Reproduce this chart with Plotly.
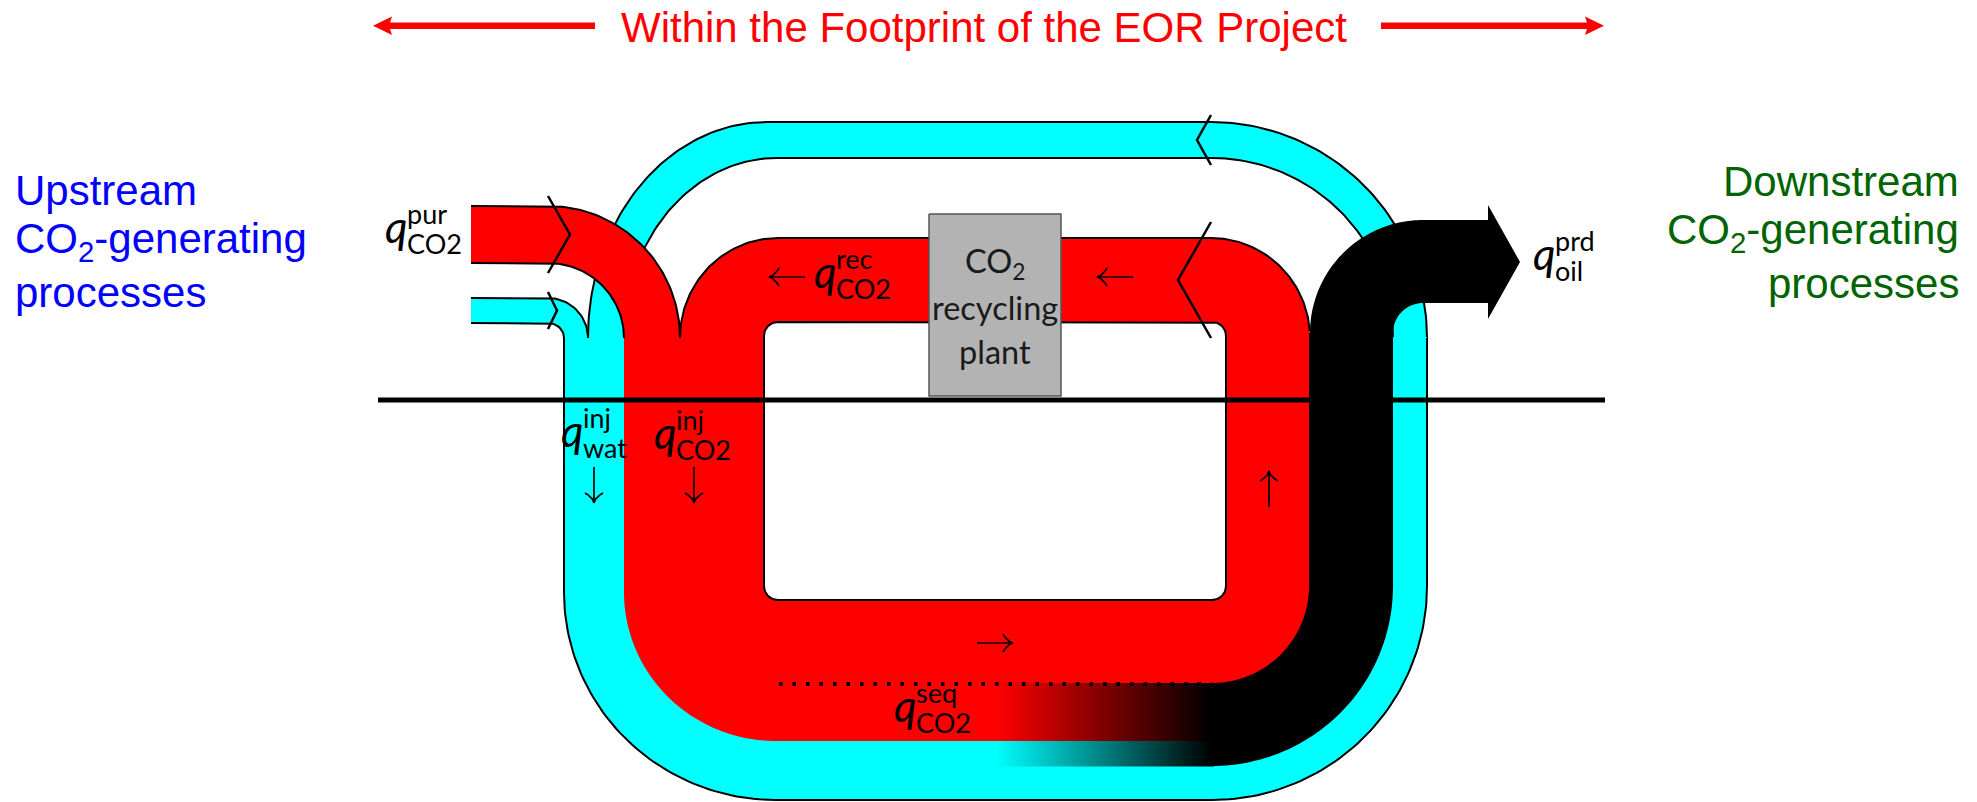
import numpy as np
import plotly.graph_objects as go

# ---------------- chart content (text) ----------------
title_text = "Within the Footprint of the EOR Project"
upstream_lines = ["Upstream", "CO<sub>2</sub>-generating", "processes"]
downstream_lines = ["Downstream", "CO<sub>2</sub>-generating", "processes"]
plant_lines = ["CO<sub>2</sub>", "recycling", "plant"]
flow_sup = ["pur", "rec", "inj", "inj", "seq", "prd"]
flow_sub = ["CO2", "CO2", "wat", "CO2", "CO2", "oil"]
arrow_dirs = ["left", "left", "down", "down", "up", "right"]

# ---------------- layout geometry (pixels, y downward) ----------------
W, H = 1977, 802
label_left = [388, 817, 564, 657, 897, 1536]
label_base = [243, 288, 447, 449, 722, 270]
arrow_pos = [(787, 277), (1115, 277), (594, 485), (694, 485), (1269, 489), (995, 643)]

CYAN, RED, BLACK = "#00ffff", "#ff0000", "#000000"
SANS = "Liberation Sans, Arial, sans-serif"
MATH = "Lato, Open Sans, sans-serif"

traces = []


def arc(cx, cy, rx, ry, a0, a1, n=60):
    t = np.radians(np.linspace(a0, a1, n))
    return list(zip(cx + rx * np.cos(t), cy + ry * np.sin(t)))


def xy(pts):
    return [p[0] for p in pts], [p[1] for p in pts]


def fill_poly(pts, color, gradient=None):
    x, y = xy(pts)
    kw = dict(x=x, y=y, mode="none", fill="toself", hoverinfo="skip")
    if gradient is None:
        kw["fillcolor"] = color
    else:
        kw["fillgradient"] = gradient
    traces.append(go.Scatter(**kw))


def line(pts, color=BLACK, width=2.0, dash=None):
    x, y = xy(pts)
    ln = dict(color=color, width=width)
    if dash:
        ln["dash"] = dash
    traces.append(go.Scatter(x=x, y=y, mode="lines", line=ln, hoverinfo="skip"))


def rrect(x0, y0, x1, y1, r):
    return ([(x0 + r, y0), (x1 - r, y0)] + arc(x1 - r, y0 + r, r, r, 270, 360, 16)
            + [(x1, y1 - r)] + arc(x1 - r, y1 - r, r, r, 0, 90, 16)
            + [(x0 + r, y1)] + arc(x0 + r, y1 - r, r, r, 90, 180, 16)
            + [(x0, y0 + r)] + arc(x0 + r, y0 + r, r, r, 180, 270, 16))


# ---- 1. recycled water arc (cyan, top) ----
cy_outer = arc(767, 338, 179, 216, 180, 270) + [(1211, 122)] + arc(1211, 338, 216, 216, 270, 360)
cy_inner = arc(1211, 338, 182, 180, 360, 270) + [(777, 158)] + arc(777, 338, 153, 180, 270, 180)
fill_poly(cy_outer + cy_inner, CYAN)
line(cy_outer)
line(cy_inner)

# ---- 2. cyan U (water into reservoir) ----
cu_pts = [(564, 337), (564, 592)] + arc(776, 592, 212, 208, 180, 90) + arc(1212, 586, 215, 214, 90, 0) + [(1427, 337)]
fill_poly(cu_pts, CYAN)
cu_line = [(471, 323), (548, 323)] + arc(548, 338, 16, 15, 270, 360, 16) + [(564, 592)] \
    + arc(776, 592, 212, 208, 180, 90) + arc(1212, 586, 215, 214, 90, 0) + [(1427, 338)]
# cyan inlet
ci_top = [(471, 298), (548, 298)] + arc(548, 338, 40, 40, 270, 360, 30)
fill_poly(ci_top + [(588, 341), (564, 341)] + arc(548, 338, 16, 15, 360, 270, 16) + [(471, 323)], CYAN)
line(ci_top)
line(cu_line)
line([(548, 292), (557, 310.5), (548, 329)], width=2.5)

# ---- 3. purchased CO2 inlet (red) ----
ri_outer = [(471, 206), (548, 206)] + arc(548, 338, 132, 132, 270, 360)
ri_inner = [(471, 263), (548, 263)] + arc(548, 338, 76, 75, 270, 360)
fill_poly(ri_outer + [(680, 346), (624, 346)] + ri_inner[::-1], RED)
line(ri_outer)
line(ri_inner)
line([(548, 196), (570, 234.5), (548, 273)], width=2.5)

# ---- 4. red CO2 loop ----
rl_top = arc(778, 338, 98, 100, 180, 270) + [(1211, 238)] + arc(1211, 338, 99, 100, 270, 356)
rl_pts = arc(778, 338, 98, 100, 180, 270) + [(1211, 238)] + arc(1211, 338, 99, 100, 270, 360) \
    + [(1312, 338), (1312, 586)] + arc(1212, 586, 100, 100, 0, 90) + [(1212, 741), (776, 741)] \
    + arc(776, 592, 152, 149, 90, 180) + [(624, 338)]
fill_poly(rl_pts, RED)
line(rl_top)

# ---- 5. white hole inside the loop ----
hole = rrect(764, 322, 1226, 600, 14)
hx, hy = xy(hole + [hole[0]])
traces.append(go.Scatter(x=hx, y=hy, mode="lines", fill="toself", fillcolor="white",
                         line=dict(color=BLACK, width=2), hoverinfo="skip"))

# ---- 6. produced fluids (black) ----
bk_pts = arc(1212, 586, 97, 97, 90, 0) + [(1309, 333)] + arc(1423, 333, 113, 113, 180, 270) \
    + [(1488, 220), (1488, 205), (1520, 262), (1488, 319), (1488, 303)] \
    + arc(1423, 333, 30, 30, 270, 180, 20) + [(1393, 586)] + arc(1212, 586, 181, 180, 0, 90)
fill_poly(bk_pts, BLACK)

# ---- 7. sequestration gradients ----
fill_poly([(996, 683), (1214, 683), (1214, 741), (996, 741)], None,
          gradient=dict(type="horizontal", colorscale=[[0, RED], [1, BLACK]], start=996, stop=1212))
fill_poly([(996, 741), (1214, 741), (1214, 766.5), (996, 766.5)], None,
          gradient=dict(type="horizontal", colorscale=[[0, CYAN], [1, BLACK]], start=996, stop=1212))
line([(779, 684), (1212, 684)], width=4, dash="3.5px,10px")

# ---- 8. chevrons on the recycle streams ----
line([(1211, 115), (1197, 140), (1211, 165)], width=2.5)
line([(1211, 222), (1178, 280), (1211, 338)], width=2.5)

# ---- 9. recycling plant ----
fill_poly([(929, 214), (1061, 214), (1061, 396), (929, 396)], "#b3b3b3")
line([(929, 214), (1061, 214), (1061, 396), (929, 396), (929, 214)], color="#555555", width=1.5)

# ---- 10. ground line ----
line([(378, 400), (1605, 400)], width=5)

# ---- 11. title arrows ----
line([(388, 25.8), (595, 25.8)], color=RED, width=6.5)
line([(1381, 25.8), (1589, 25.8)], color=RED, width=6.5)
fill_poly([(373, 25.8), (392, 16.5), (389, 25.8), (392, 35)], RED)
fill_poly([(1604, 25.8), (1585, 16.5), (1588, 25.8), (1585, 35)], RED)


# ---- 12. flow-direction glyph arrows ----
def glyph_arrow(xc, yc, d, L=36, back=10, out=9):
    ux, uy = {"left": (-1, 0), "right": (1, 0), "up": (0, -1), "down": (0, 1)}[d]
    px, py = -uy, ux
    tip = np.array([xc + ux * L / 2, yc + uy * L / 2])
    tail = np.array([xc - ux * L / 2, yc - uy * L / 2])
    line([tuple(tail), tuple(tip)], width=1.7)
    t = np.linspace(0, 1, 14)[:, None]
    u = np.array([ux, uy]); p = np.array([px, py])
    for s in (1, -1):
        P0 = tip
        P1 = tip - 0.55 * back * u + s * 0.12 * out * p
        P2 = tip - back * u + s * out * p
        B = (1 - t) ** 2 * P0 + 2 * (1 - t) * t * P1 + t ** 2 * P2
        line([tuple(b) for b in B], width=1.7)


for (ax, ay), d in zip(arrow_pos, arrow_dirs):
    glyph_arrow(ax, ay, d)

fig = go.Figure(traces)

ann = []


def text(x, y, s, size, color=BLACK, family=SANS, xanchor="left", style="normal"):
    ann.append(dict(x=x, y=y, xref="x", yref="y", text=s, showarrow=False, xanchor=xanchor,
                    yanchor="middle", font=dict(family=family, size=size, color=color, style=style)))


# title
text(983.5, 27.4, title_text, 42, RED, xanchor="center")
# upstream / downstream
for i, s in enumerate(upstream_lines):
    text(13, 190.5 + 51 * i, s, 42, "#0000ff")
for i, s in enumerate(downstream_lines):
    text(1961, 181.5 + 51 * i, s, 42, "#006400", xanchor="right")
# plant
for i, s in enumerate(plant_lines):
    text(995, 263.2 + 44 * i, s, 32.5, "#1a1a1a", family=MATH, xanchor="center")
# flow labels q^sup_sub
QS, SS = 44, 27
for sup, sub, xl, yb in zip(flow_sup, flow_sub, label_left, label_base):
    text(xl - 5, yb - 0.387 * QS, "q", QS, family=MATH, style="italic")
    text(xl + 17, yb - 19 - 0.387 * SS, sup, SS, family=MATH)
    text(xl + 17, yb + 11 - 0.387 * SS, sub, SS, family=MATH)

fig.update_layout(
    width=W, height=H, margin=dict(l=0, r=0, t=0, b=0),
    paper_bgcolor="white", plot_bgcolor="white", showlegend=False,
    xaxis=dict(range=[0, W], visible=False, fixedrange=True),
    yaxis=dict(range=[H, 0], visible=False, fixedrange=True),
    annotations=ann,
)
fig.write_html("out.html", config={"displayModeBar": False},
               post_script="document.body.style.margin='0px';document.body.style.overflow='hidden';")
